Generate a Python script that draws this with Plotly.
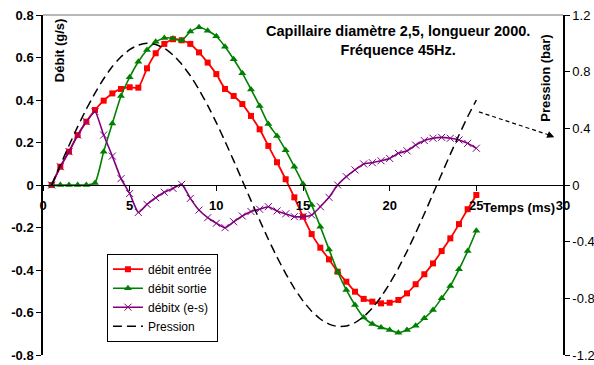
import plotly.graph_objects as go

# Time (ms)
temps = [0.5, 1.0, 1.5, 2.0, 2.5, 3.0, 3.5, 4.0, 4.5, 5.0,
         5.5, 6.0, 6.5, 7.0, 7.5, 8.0, 8.5, 9.0, 9.5, 10.0,
         10.5, 11.0, 11.5, 12.0, 12.5, 13.0, 13.5, 14.0, 14.5, 15.0,
         15.5, 16.0, 16.5, 17.0, 17.5, 18.0, 18.5, 19.0, 19.5, 20.0,
         20.5, 21.0, 21.5, 22.0, 22.5, 23.0, 23.5, 24.0, 24.5, 25.0]

debit_entree = [0.0, 0.086, 0.157, 0.235, 0.298, 0.353, 0.397, 0.431, 0.452, 0.460,
                0.458, 0.549, 0.620, 0.664, 0.686, 0.681, 0.664, 0.624, 0.576, 0.522,
                0.452, 0.419, 0.381, 0.325, 0.262, 0.184, 0.107, 0.027, -0.058, -0.149,
                -0.231, -0.295, -0.350, -0.408, -0.455, -0.502, -0.536, -0.549, -0.557, -0.554,
                -0.541, -0.510, -0.467, -0.420, -0.369, -0.311, -0.251, -0.184, -0.114, -0.047]

debit_sortie = [0.0, 0.0, 0.0, 0.0, 0.0, 0.010, 0.157, 0.290, 0.419, 0.507,
                0.580, 0.635, 0.674, 0.692, 0.690, 0.680, 0.722, 0.742, 0.726, 0.700,
                0.651, 0.592, 0.526, 0.450, 0.372, 0.287, 0.231, 0.163, 0.086, 0.005,
                -0.094, -0.196, -0.303, -0.408, -0.494, -0.565, -0.623, -0.654, -0.670, -0.682,
                -0.695, -0.682, -0.662, -0.627, -0.588, -0.533, -0.475, -0.397, -0.311, -0.215]

debit_diff = [0.0, 0.086, 0.157, 0.235, 0.298, 0.345, 0.235, 0.136, 0.030, -0.040,
              -0.129, -0.091, -0.060, -0.034, -0.016, 0.003, -0.063, -0.118, -0.154, -0.180,
              -0.201, -0.173, -0.146, -0.125, -0.114, -0.102, -0.122, -0.136, -0.149, -0.149,
              -0.141, -0.102, -0.058, 0.0, 0.039, 0.071, 0.099, 0.105, 0.114, 0.125,
              0.149, 0.161, 0.188, 0.209, 0.220, 0.224, 0.220, 0.212, 0.196, 0.173]

pression = [0.0, 0.141, 0.279, 0.412, 0.536, 0.649, 0.750, 0.836, 0.905, 0.956,
            0.988, 1.000, 0.992, 0.965, 0.918, 0.853, 0.771, 0.673, 0.562, 0.440,
            0.309, 0.172, 0.031, -0.110, -0.249, -0.383, -0.509, -0.625, -0.729, -0.818,
            -0.891, -0.946, -0.982, -0.999, -0.996, -0.972, -0.930, -0.869, -0.790, -0.696,
            -0.588, -0.468, -0.339, -0.203, -0.063, 0.078, 0.218, 0.353, 0.482, 0.600]

x_ticks = [0, 5, 10, 15, 20, 25, 30]
x_labels = ["0", "5", "10", "15", "20", "25", "30"]
y1_ticks = [0.8, 0.6, 0.4, 0.2, 0, -0.2, -0.4, -0.6, -0.8]
y1_labels = ["0.8", "0.6", "0.4", "0.2", "0", "-0.2", "-0.4", "-0.6", "-0.8"]
y2_ticks = [1.2, 0.8, 0.4, 0, -0.4, -0.8, -1.2]
y2_labels = ["1.2", "0.8", "0.4", "0", "-0.4", "-0.8", "-1.2"]

FONT = "Liberation Sans, Arial, sans-serif"

fig = go.Figure()
fig.add_trace(go.Scatter(x=temps, y=debit_entree, name="débit entrée", mode="lines+markers",
                         line=dict(color="#FF0000", width=1.8, shape="spline", smoothing=0.5),
                         marker=dict(symbol="square", size=6, color="#FF0000")))
fig.add_trace(go.Scatter(x=temps, y=debit_sortie, name="débit sortie", mode="lines+markers",
                         line=dict(color="#008000", width=1.6, shape="spline", smoothing=0.5),
                         marker=dict(symbol="triangle-up", size=7, color="#008000")))
fig.add_trace(go.Scatter(x=temps, y=debit_diff, name="débitx (e-s)", mode="lines+markers",
                         line=dict(color="#800080", width=1.6, shape="spline", smoothing=0.5),
                         marker=dict(symbol="x-thin", size=7, color="#800080",
                                     line=dict(color="#800080", width=1))))
fig.add_trace(go.Scatter(x=temps, y=pression, name="Pression", mode="lines", yaxis="y2",
                         line=dict(color="black", width=1.5, dash="9px,5px", shape="spline", smoothing=0.5)))

fig.update_layout(
    width=594, height=365,
    margin=dict(l=43, r=31, t=15, b=10),
    paper_bgcolor="white", plot_bgcolor="white",
    font=dict(family=FONT, color="black", size=13),
    showlegend=True,
    legend=dict(x=0.123, y=0.298, xanchor="left", yanchor="top",
                bgcolor="white", bordercolor="black", borderwidth=1,
                font=dict(size=12, family=FONT), tracegroupgap=0, itemwidth=30),
    xaxis=dict(range=[0, 30], tickvals=x_ticks, ticktext=x_labels,
               anchor="free", position=0.5, showline=True, linecolor="black", linewidth=1,
               ticks="outside", ticklen=5, tickcolor="black", showgrid=False, zeroline=False,
               tickfont=dict(size=13, weight="bold", family=FONT), ticklabelstandoff=3,
               automargin=False),
    yaxis=dict(range=[-0.8, 0.8], tickvals=y1_ticks, ticktext=y1_labels,
               showline=True, linecolor="black", linewidth=1.5, ticks="outside", ticklen=5,
               tickcolor="black", showgrid=False, zeroline=False,
               tickfont=dict(size=13, weight="bold", family=FONT), automargin=False),
    yaxis2=dict(range=[-1.2, 1.2], tickvals=y2_ticks, ticktext=y2_labels,
                overlaying="y", side="right", showline=True, linecolor="black", linewidth=1.5,
                ticks="outside", ticklen=5, tickcolor="black", showgrid=False, zeroline=False,
                tickfont=dict(size=13, family=FONT), automargin=False),
    shapes=[
        dict(type="line", xref="paper", yref="paper", x0=0, x1=1, y0=1, y1=1,
             line=dict(color="#a0a0a0", width=1.5)),
        dict(type="line", xref="x", yref="y", x0=25.15, y0=0.344, x1=29.25, y1=0.234,
             line=dict(color="black", width=1.2, dash="4px,3px")),
    ],
    annotations=[
        dict(x=29.5, y=0.225, xref="x", yref="y", ax=29.1, ay=0.238, axref="x", ayref="y",
             text="", showarrow=True, arrowhead=2, arrowsize=1.2, arrowwidth=1.2, arrowcolor="black"),
        dict(x=0.683, y=0.924, xref="paper", yref="paper", xanchor="center", yanchor="middle",
             text="Capillaire diamètre 2,5, longueur 2000.<br>Fréquence 45Hz.",
             showarrow=False, font=dict(size=14.5, weight="bold", family=FONT)),
        dict(x=0.031, y=0.897, xref="paper", yref="paper", xanchor="center", yanchor="middle",
             text="Débit (g/s)", textangle=-90,
             showarrow=False, font=dict(size=13, weight="bold", family=FONT)),
        dict(x=0.967, y=0.815, xref="paper", yref="paper", xanchor="center", yanchor="middle",
             text="Pression (bar)", textangle=-90,
             showarrow=False, font=dict(size=13, weight="bold", family=FONT)),
        dict(x=0.915, y=0.435, xref="paper", yref="paper", xanchor="center", yanchor="middle",
             text="Temps (ms)",
             showarrow=False, font=dict(size=13, weight="bold", family=FONT)),
    ],
)

fig.write_html("out.html", config={"displayModeBar": False},
               post_script="document.body.style.margin='0';")
